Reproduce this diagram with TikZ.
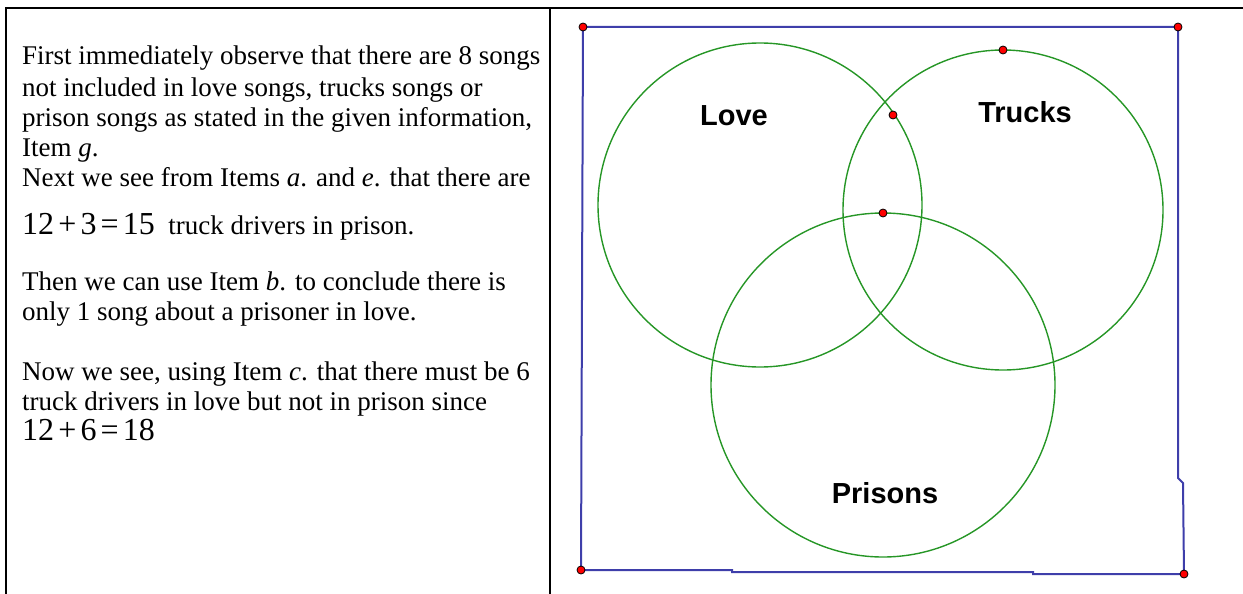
\documentclass[tikz,border=0pt]{standalone}
\usepackage{fontspec}
\setmainfont{Liberation Serif}
\newfontfamily\labelfont{Liberation Sans}
\usetikzlibrary{positioning}

\definecolor{rectblue}{RGB}{62,62,170}
\definecolor{circgreen}{RGB}{38,150,38}

\tikzset{
  txt/.style={anchor=base west, inner sep=0pt, font=\fontsize{27}{30}\selectfont},
  eqn/.style={anchor=base west, inner sep=0pt, font=\fontsize{32}{36}\selectfont},
  setlabel/.style={font=\labelfont\bfseries\fontsize{29}{32}\selectfont, text=black},
  setcircle/.style={draw=circgreen, line width=1.4pt},
  redpt/.style={circle, fill=red, draw=black, line width=0.8pt, inner sep=0pt, minimum size=8pt},
}

\begin{document}
\begin{tikzpicture}[x=1pt, y=-1pt]
\useasboundingbox (0,0) rectangle (1243,594);

% Tabla
\draw [line width=2.4pt] (6,594) -- (6,8) -- (1243,8);
\draw [line width=2.4pt] (550,8) -- (550,594);

% Texto
\node [txt] (l1) at (22,65) {First immediately observe that there are 8 songs};
\node [txt] (l2) at (22,96) {not included in love songs, trucks songs or};
\node [txt] (l3) at (22,126) {prison songs as stated in the given information,};
\node [txt] (l4) at (22,156) {Item \textit{g}.};
\node [txt] (l5) at (22,186) {Next we see from Items \textit{a}. and \textit{e}. that there are};
\node [eqn] (eqa) at (22,234) {12\hspace{0.13em}+\hspace{0.13em}3\hspace{0.13em}=\hspace{0.13em}15};
\node [txt] (l6) at ([xshift=13pt]eqa.base east) {truck drivers in prison.};
\node [txt] (l7) at (22,290) {Then we can use Item \textit{b}. to conclude there is};
\node [txt] (l8) at (22,320) {only 1 song about a prisoner in love.};
\node [txt] (l9) at (22,380) {Now we see, using Item \textit{c}. that there must be 6};
\node [txt] (l10) at (22,410) {truck drivers in love but not in prison since};
\node [eqn] (eqb) at (22,440) {12\hspace{0.13em}+\hspace{0.13em}6\hspace{0.13em}=\hspace{0.13em}18};

% Circulos
\draw [setcircle] (760,205) circle [radius=162];
\draw [setcircle] (1003,210) circle [radius=160];
\draw [setcircle] (883,385) circle [radius=172];

% Universo
\coordinate (c1) at (583,27);
\coordinate (c2) at (1178,27);
\coordinate (c3) at (1184,574);
\coordinate (c4) at (581,570);
\draw [rectblue, line width=2pt] (c1) -- (c2) -- (1178,478) -- (1183,483) -- (c3)
  -- (1033,574) -- (1033,572) -- (732,572) -- (732,570) -- (c4) -- cycle;

% Puntos
\node [redpt] (p1) at (c1) {};
\node [redpt] (p2) at (c2) {};
\node [redpt] (p3) at (c3) {};
\node [redpt] (p4) at (c4) {};
\node [redpt] (p5) at (1003,50) {};
\node [redpt] (p6) at (893,115) {};
\node [redpt] (p7) at (883,213) {};

% Etiquetas
\node [setlabel] (love) at (734,116) {Love};
\node [setlabel] (trucks) at (1025,112) {Trucks};
\node [setlabel] (prisons) at (885,493) {Prisons};
\end{tikzpicture}
\end{document}
